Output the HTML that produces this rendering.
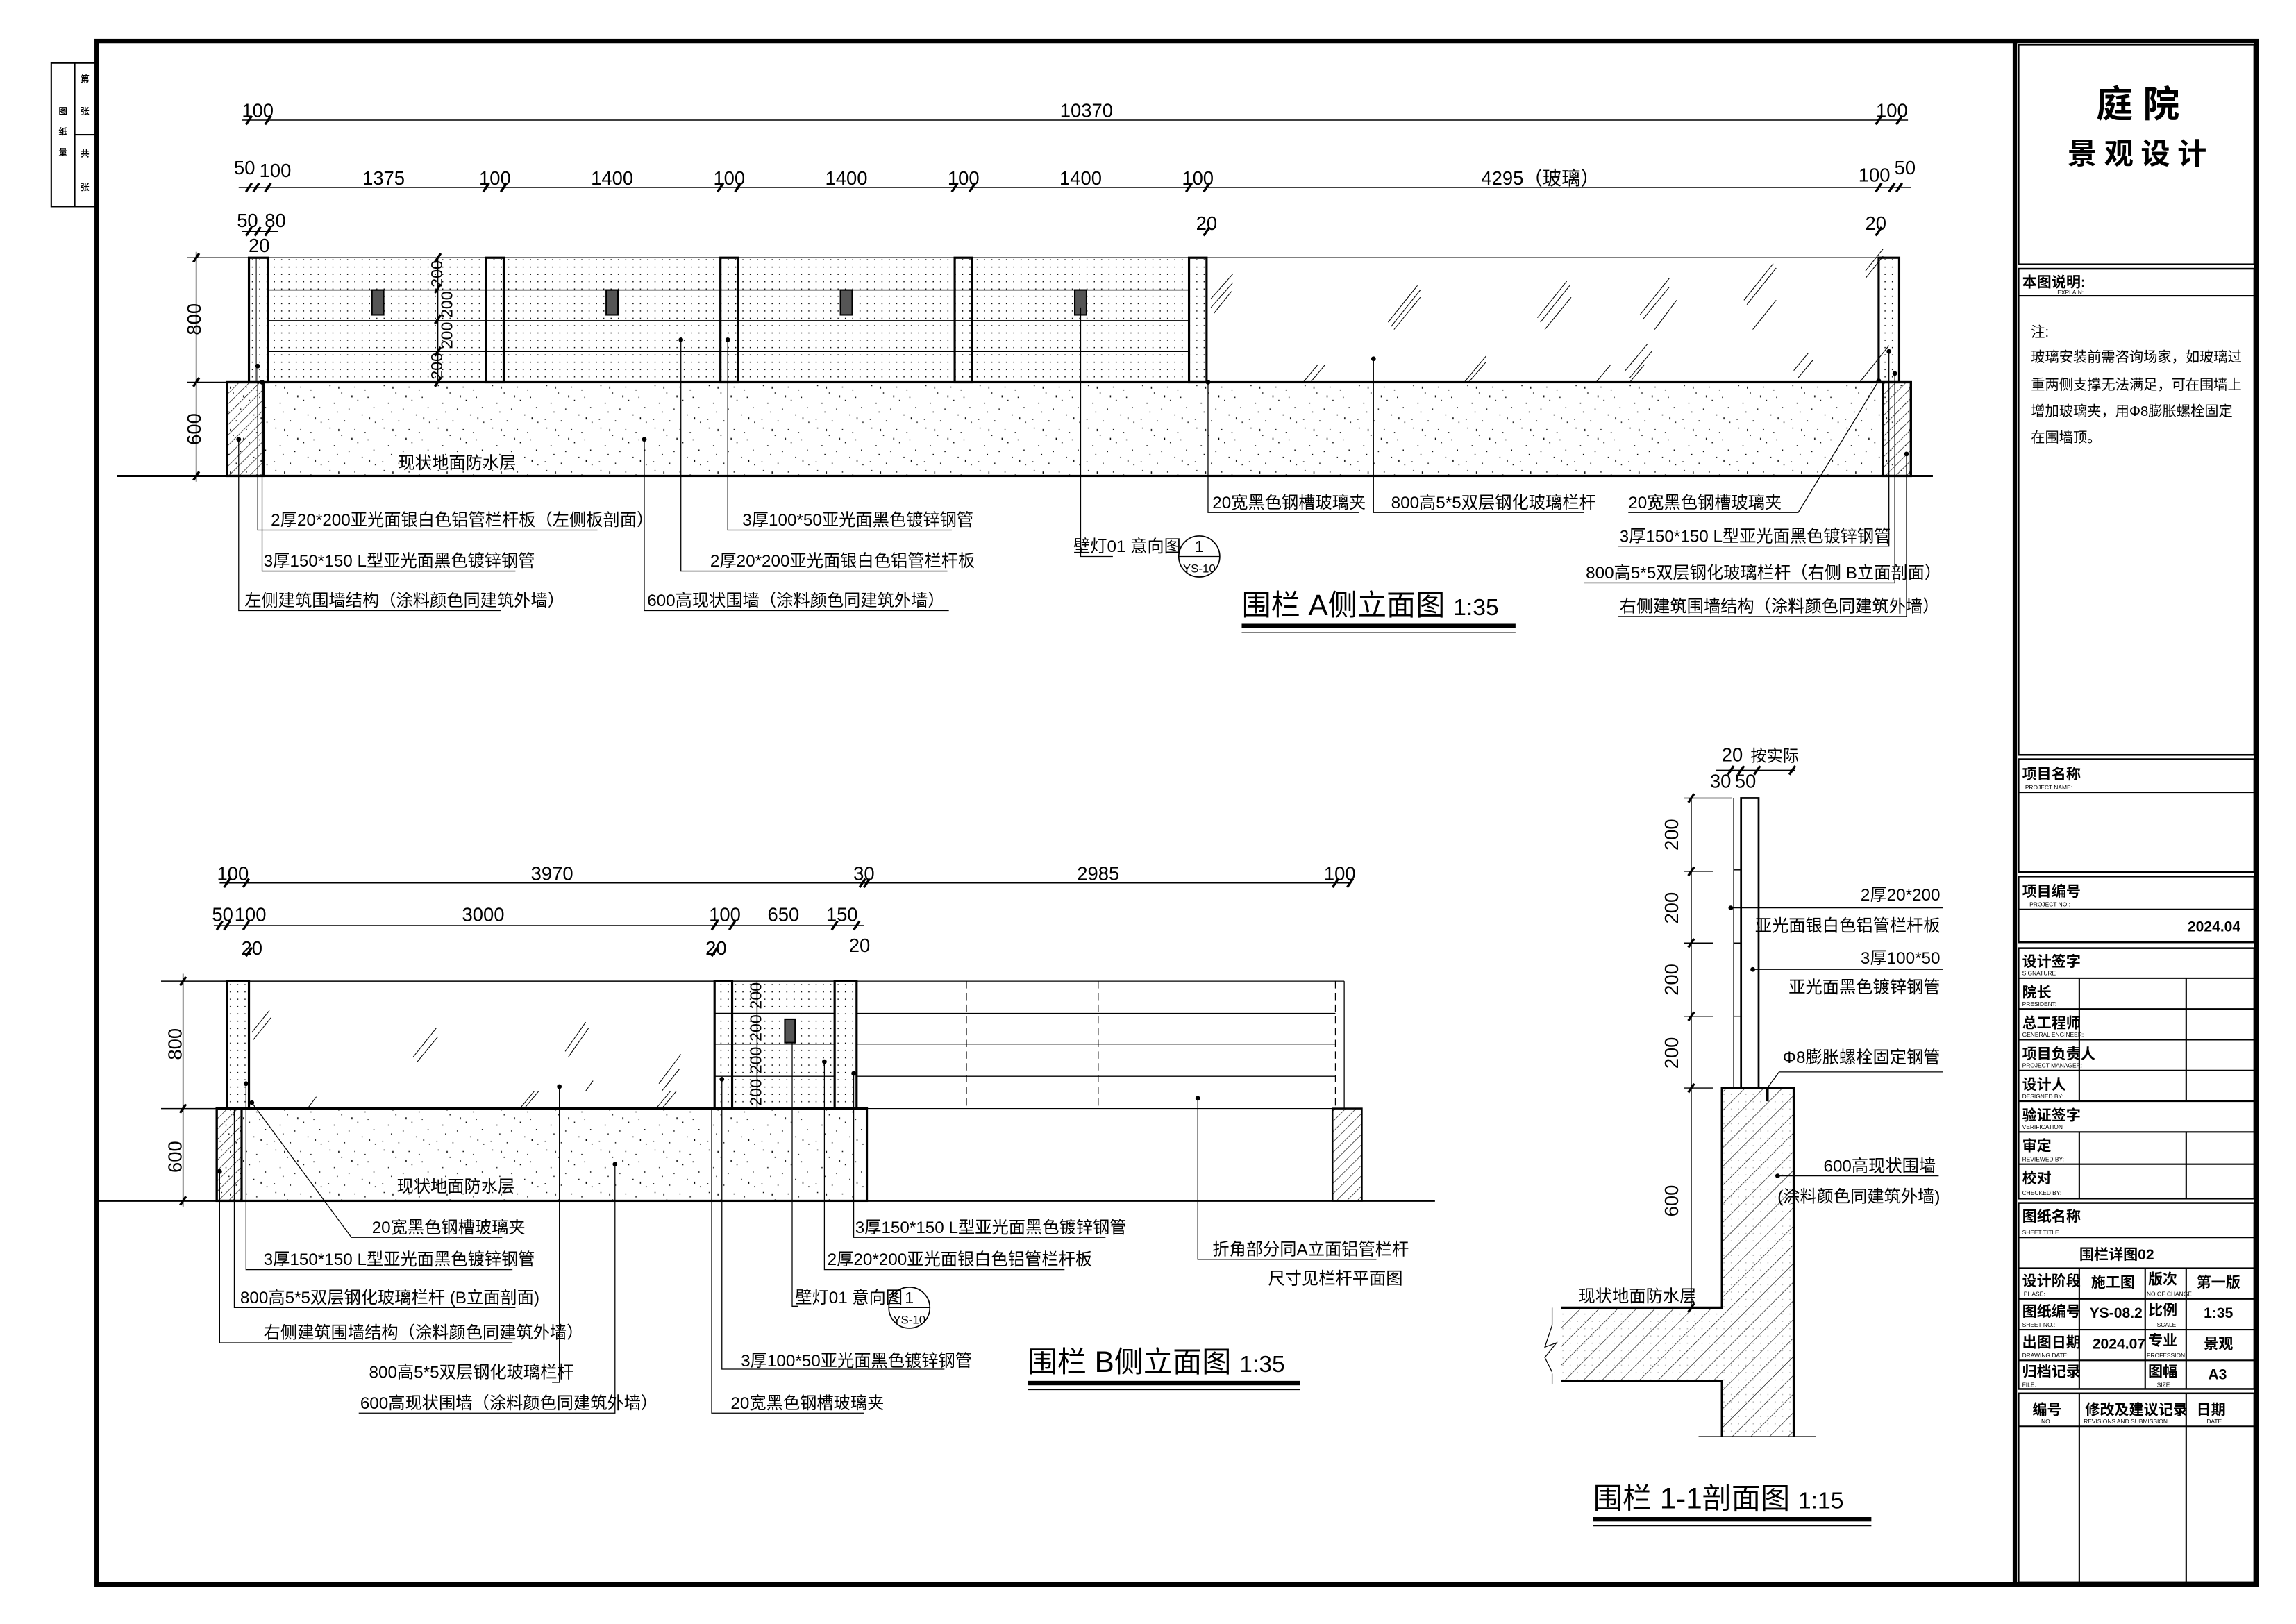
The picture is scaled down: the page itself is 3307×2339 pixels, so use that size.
<!DOCTYPE html>
<html><head><meta charset="utf-8"><style>
html,body{margin:0;padding:0;background:#fff}
svg{display:block}
text{font-family:"Liberation Sans","Noto Sans CJK SC",sans-serif;fill:#000}
.t{font-size:11.5px}
.d{font-size:13px}
.b{font-weight:bold}
</style></head><body>
<svg width="3307" height="2339" viewBox="0 0 1568 1109" xmlns="http://www.w3.org/2000/svg">
<defs>
<pattern id="dots" width="5" height="5" patternUnits="userSpaceOnUse"><rect x="2" y="2" width="0.7" height="0.7" fill="#000"/></pattern>
<pattern id="spk" width="37" height="29" patternUnits="userSpaceOnUse">
<g fill="#000"><rect x="3" y="2" width=".7" height=".7"/><rect x="11" y="7" width=".7" height=".7"/><rect x="20" y="3" width=".7" height=".7"/><rect x="29" y="10" width=".7" height=".7"/><rect x="6" y="14" width=".7" height=".7"/><rect x="16" y="18" width=".7" height=".7"/><rect x="25" y="22" width=".7" height=".7"/><rect x="33" y="17" width=".7" height=".7"/><rect x="2" y="25" width=".7" height=".7"/><rect x="13" y="26" width=".7" height=".7"/><rect x="22" y="12" width=".7" height=".7"/><rect x="34" y="27" width=".7" height=".7"/><rect x="8" y="20" width=".7" height=".7"/><rect x="27" y="5" width=".7" height=".7"/><rect x="18" y="9" width=".7" height="1.4"/><rect x="30" y="24" width=".7" height="1.4"/><rect x="9" y="3" width=".7" height="1.4"/></g></pattern>
<pattern id="hat" width="5" height="5" patternUnits="userSpaceOnUse" patternTransform="rotate(45)"><line x1="0" y1="0" x2="0" y2="5" stroke="#000" stroke-width="0.6"/></pattern>
<pattern id="hat2" width="9" height="9" patternUnits="userSpaceOnUse" patternTransform="rotate(45)"><line x1="0" y1="0" x2="0" y2="9" stroke="#000" stroke-width="0.6"/></pattern>
</defs>

<rect x="66" y="28" width="1475" height="1054" fill="none" stroke="#000" stroke-width="3"/>
<line x1="1376" y1="28" x2="1376" y2="1082" stroke="#000" stroke-width="3"/>
<g stroke="#000" stroke-width="1" fill="none"><rect x="35" y="43" width="31" height="98"/><line x1="51" y1="43" x2="51" y2="141"/><line x1="51" y1="92" x2="66" y2="92"/></g>
<g font-size="6" class="b"><text x="40" y="78">图</text><text x="40" y="92">纸</text><text x="40" y="106">量</text><text x="55" y="56">第</text><text x="55" y="78">张</text><text x="55" y="107">共</text><text x="55" y="130">张</text></g>

<g stroke="#000" fill="none">
<rect x="1378.5" y="30.5" width="161" height="150" stroke-width="1.2"/>
<rect x="1378.5" y="183.5" width="161" height="332" stroke-width="1.2"/>
<line x1="1379" y1="202" x2="1540" y2="202"/>
<rect x="1378.5" y="518.5" width="161" height="77" stroke-width="1.2"/>
<line x1="1379" y1="541" x2="1540" y2="541"/>
<rect x="1378.5" y="598.5" width="161" height="45" stroke-width="1.2"/>
<line x1="1379" y1="621" x2="1540" y2="621"/>
<rect x="1378.5" y="647.5" width="161" height="171" stroke-width="1.2"/>
<line x1="1379" y1="668" x2="1540" y2="668"/><line x1="1379" y1="689" x2="1540" y2="689"/><line x1="1379" y1="710" x2="1540" y2="710"/><line x1="1379" y1="731" x2="1540" y2="731"/><line x1="1379" y1="752" x2="1540" y2="752"/><line x1="1379" y1="773" x2="1540" y2="773"/><line x1="1379" y1="795" x2="1540" y2="795"/>
<line x1="1420" y1="668" x2="1420" y2="752"/><line x1="1493" y1="668" x2="1493" y2="752"/>
<line x1="1420" y1="773" x2="1420" y2="818"/><line x1="1493" y1="773" x2="1493" y2="818"/>
<rect x="1378.5" y="821.5" width="161" height="127" stroke-width="1.2"/>
<line x1="1379" y1="845" x2="1540" y2="845"/><line x1="1379" y1="866" x2="1540" y2="866"/><line x1="1379" y1="887" x2="1540" y2="887"/><line x1="1379" y1="908" x2="1540" y2="908"/><line x1="1379" y1="929" x2="1540" y2="929"/>
<line x1="1420" y1="866" x2="1420" y2="948"/><line x1="1465" y1="866" x2="1465" y2="948"/><line x1="1493" y1="866" x2="1493" y2="948"/>
<rect x="1378.5" y="951.5" width="161" height="129" stroke-width="1.2"/>
<line x1="1379" y1="974" x2="1540" y2="974"/><line x1="1420" y1="952" x2="1420" y2="1081"/><line x1="1493" y1="952" x2="1493" y2="1081"/>
</g>
<text x="1460" y="80" font-size="25" class="b" text-anchor="middle">庭  院</text>
<text x="1462" y="112" font-size="20" class="b" text-anchor="middle" letter-spacing="5">景观设计</text>
<text x="1381" y="196" font-size="10" class="b">本图说明:</text><text x="1405" y="201" font-size="4">EXPLAIN:</text>
<g font-size="9.6"><text x="1387" y="230">注:</text><text x="1387" y="247">玻璃安装前需咨询场家，如玻璃过</text><text x="1387" y="266">重两侧支撑无法满足，可在围墙上</text><text x="1387" y="284">增加玻璃夹，用Φ8膨胀螺栓固定</text><text x="1387" y="302">在围墙顶。</text></g>
<g font-size="10" class="b">
<text x="1381" y="532">项目名称</text><text x="1381" y="612">项目编号</text><text x="1494" y="636">2024.04</text>
<text x="1381" y="660">设计签字</text><text x="1381" y="681">院长</text><text x="1381" y="702">总工程师</text><text x="1381" y="723">项目负责人</text><text x="1381" y="744">设计人</text><text x="1381" y="765">验证签字</text><text x="1381" y="786">审定</text><text x="1381" y="808">校对</text>
<text x="1381" y="834">图纸名称</text><text x="1420" y="860">围栏详图02</text>
<text x="1381" y="878">设计阶段</text><text x="1428" y="879">施工图</text><text x="1467" y="877">版次</text><text x="1500" y="879">第一版</text>
<text x="1381" y="899">图纸编号</text><text x="1427" y="900">YS-08.2</text><text x="1467" y="898">比例</text><text x="1505" y="900">1:35</text>
<text x="1381" y="920">出图日期</text><text x="1429" y="921">2024.07</text><text x="1467" y="919">专业</text><text x="1505" y="921">景观</text>
<text x="1381" y="940">归档记录</text><text x="1467" y="940">图幅</text><text x="1508" y="942">A3</text>
<text x="1388" y="966">编号</text><text x="1424" y="966">修改及建议记录</text><text x="1500" y="966">日期</text>
</g>
<g font-size="4"><text x="1383" y="539">PROJECT NAME:</text><text x="1386" y="619">PROJECT NO.:</text><text x="1381" y="666">SIGNATURE</text><text x="1381" y="687">PRESIDENT:</text><text x="1381" y="708">GENERAL ENGINEER:</text><text x="1381" y="729">PROJECT MANAGER:</text><text x="1381" y="750">DESIGNED BY:</text><text x="1381" y="771">VERIFICATION</text><text x="1381" y="793">REVIEWED BY:</text><text x="1381" y="816">CHECKED BY:</text><text x="1381" y="843">SHEET TITLE</text><text x="1382" y="885">PHASE:</text><text x="1381" y="906">SHEET NO.:</text><text x="1381" y="927">DRAWING DATE:</text><text x="1381" y="947">FILE:</text><text x="1466" y="885">NO.OF CHANGE</text><text x="1473" y="906">SCALE:</text><text x="1466" y="927">PROFESSION</text><text x="1473" y="947">SIZE</text><text x="1394" y="972">NO.</text><text x="1423" y="972">REVISIONS AND SUBMISSION</text><text x="1507" y="972">DATE</text></g>

<!-- Elevation A -->
<g stroke="#000" fill="none" stroke-width="0.7">
<line x1="165" y1="82" x2="1303" y2="82"/>
<line x1="163" y1="128" x2="1305" y2="128"/>
<line x1="165" y1="158" x2="190" y2="158"/>
<line x1="128" y1="176" x2="170" y2="176"/><line x1="128" y1="261" x2="155" y2="261"/><line x1="128" y1="325" x2="155" y2="325"/>
<line x1="134" y1="172" x2="134" y2="329"/>
<line x1="299" y1="176" x2="299" y2="261"/>
</g>
<g stroke="#000" stroke-width="1.6">
<path d="M168 85l4-6M181 85l4-6M1281 85l4-6M1295 85l4-6M168 131l4-6M173 131l4-6M181 131l4-6M330 131l4-6M342 131l4-6M490 131l4-6M502 131l4-6M650 131l4-6M662 131l4-6M810 131l4-6M822 131l4-6M1281 131l4-6M1290 131l4-6M1295 131l4-6M168 161l4-6M174 161l4-6M181 161l4-6M822 161l4-6M1281 161l4-6M132 179l4-6M132 264l4-6M132 328l4-6M297 179l4-6M297 200l4-6M297 221l4-6M297 243l4-6M297 264l4-6"/>
</g>
<g class="d" text-anchor="middle">
<text x="176" y="80">100</text><text x="742" y="80">10370</text><text x="1292" y="80">100</text>
<text x="167" y="119">50</text><text x="188" y="121">100</text><text x="262" y="126">1375</text><text x="338" y="126">100</text><text x="418" y="126">1400</text><text x="498" y="126">100</text><text x="578" y="126">1400</text><text x="658" y="126">100</text><text x="738" y="126">1400</text><text x="818" y="126">100</text><text x="1052" y="126">4295（玻璃）</text><text x="1280" y="124">100</text><text x="1301" y="119">50</text>
<text x="169" y="155">50</text><text x="188" y="155">80</text><text x="177" y="172">20</text><text x="824" y="157">20</text><text x="1281" y="157">20</text>
</g>
<g class="d" text-anchor="middle"><text transform="translate(137,218) rotate(-90)">800</text><text transform="translate(137,293) rotate(-90)">600</text>
<text transform="translate(302,187) rotate(-90)" font-size="11">200</text><text transform="translate(309,208) rotate(-90)" font-size="11">200</text><text transform="translate(309,229) rotate(-90)" font-size="11">200</text><text transform="translate(302,250) rotate(-90)" font-size="11">200</text></g>

<rect x="183" y="176" width="629" height="85" fill="url(#dots)" stroke="#000" stroke-width="0.7"/>
<g stroke="#000" stroke-width="0.7"><line x1="183" y1="198" x2="812" y2="198"/><line x1="183" y1="219" x2="812" y2="219"/><line x1="183" y1="240" x2="812" y2="240"/></g>
<g fill="url(#dots)" stroke="#000" stroke-width="1.5">
<rect x="170" y="176" width="13" height="85"/><rect x="332" y="176" width="12" height="85"/><rect x="492" y="176" width="12" height="85"/><rect x="652" y="176" width="12" height="85"/><rect x="812" y="176" width="12" height="85"/><rect x="1283" y="176" width="14" height="85"/>
</g>
<line x1="175" y1="176" x2="175" y2="261" stroke="#000" stroke-width="0.5"/>
<g fill="#555" stroke="#000" stroke-width="1"><rect x="254" y="198" width="8" height="17"/><rect x="414" y="198" width="8" height="17"/><rect x="574" y="198" width="8" height="17"/><rect x="734" y="198" width="8" height="17"/></g>
<line x1="824" y1="176" x2="1283" y2="176" stroke="#000" stroke-width="0.7"/>
<g stroke="#000" stroke-width="0.5">
<path d="M827 204l15-17M827 210l15-17M829 214l12-15M948 220l20-25M950 223l20-25M952 225l18-22M1050 217l20-25M1052 220l20-25M1055 225l18-22M1120 215l20-25M1122 218l18-22M1130 225l15-20M1191 205l20-25M1193 208l20-25M1197 225l16-20M1225 253l10-12M1228 258l10-12M1110 253l15-18M1113 258l15-18M1113 261l10-12M1000 261l15-18M1003 261l12-14M1090 261l10-12M1270 261l20-25M1274 185l12-15M1274 190l12-15M890 261l10-12M895 261l10-12"/>
</g>
<rect x="155" y="261" width="1150" height="64" fill="url(#spk)" stroke="#000" stroke-width="1.5"/>
<rect x="155" y="261" width="25" height="64" fill="url(#hat)" stroke="#000" stroke-width="1.5"/>
<rect x="1286" y="261" width="19" height="64" fill="url(#hat)" stroke="#000" stroke-width="1.5"/>
<line x1="80" y1="325" x2="1320" y2="325" stroke="#000" stroke-width="1.4"/>
<text x="272" y="320" class="t">现状地面防水层</text>
<g stroke="#000" stroke-width="0.6" fill="none">
<path d="M176 250V362H408"/><path d="M179 261V390H352"/><path d="M163 300V417H342"/>
<path d="M497 232V362H650"/><path d="M465 232V390H647"/><path d="M440 300V417H648"/>
<path d="M738 210V380H760"/>
<path d="M825 261V350H928"/><path d="M938 245V350H1082"/>
<path d="M1283 260L1228 350H1112"/><path d="M1290 240V373H1285H1105"/><path d="M1294 255V398H1082"/><path d="M1302 310V421H1105"/>
</g>
<g fill="#000"><circle cx="176" cy="250" r="1.6"/><circle cx="179" cy="261" r="1.6"/><circle cx="163" cy="300" r="1.6"/><circle cx="497" cy="232" r="1.6"/><circle cx="465" cy="232" r="1.6"/><circle cx="440" cy="300" r="1.6"/><circle cx="825" cy="261" r="1.6"/><circle cx="938" cy="245" r="1.6"/><circle cx="1283" cy="260" r="1.6"/><circle cx="1290" cy="240" r="1.6"/><circle cx="1294" cy="255" r="1.6"/><circle cx="1302" cy="310" r="1.6"/></g>
<g class="t">
<text x="185" y="359">2厚20*200亚光面银白色铝管栏杆板（左侧板剖面）</text>
<text x="180" y="387">3厚150*150 L型亚光面黑色镀锌钢管</text>
<text x="167" y="414">左侧建筑围墙结构（涂料颜色同建筑外墙）</text>
<text x="507" y="359">3厚100*50亚光面黑色镀锌钢管</text>
<text x="485" y="387">2厚20*200亚光面银白色铝管栏杆板</text>
<text x="442" y="414">600高现状围墙（涂料颜色同建筑外墙）</text>
<text x="733" y="377">壁灯01 意向图</text>
<text x="828" y="347">20宽黑色钢槽玻璃夹</text>
<text x="950" y="347">800高5*5双层钢化玻璃栏杆</text>
<text x="1112" y="347">20宽黑色钢槽玻璃夹</text>
<text x="1106" y="370">3厚150*150 L型亚光面黑色镀锌钢管</text>
<text x="1083" y="395">800高5*5双层钢化玻璃栏杆（右侧 B立面剖面）</text>
<text x="1106" y="418">右侧建筑围墙结构（涂料颜色同建筑外墙）</text>
</g>
<circle cx="819" cy="380" r="14" fill="none" stroke="#000" stroke-width="0.8"/><line x1="805" y1="380" x2="833" y2="380" stroke="#000" stroke-width="0.6"/>
<text x="819" y="377" font-size="11" text-anchor="middle">1</text><text x="819" y="391" font-size="8" text-anchor="middle">YS-10</text>
<text x="848" y="420" font-size="20">围栏 A侧立面图 <tspan font-size="16">1:35</tspan></text>
<rect x="848" y="426" width="187" height="3" fill="#000"/><line x1="848" y1="432" x2="1035" y2="432" stroke="#000" stroke-width="0.6"/>

<!-- Elevation B -->
<g stroke="#000" fill="none" stroke-width="0.7">
<line x1="150" y1="603" x2="922" y2="603"/>
<line x1="146" y1="632" x2="590" y2="632"/>
<line x1="110" y1="670" x2="155" y2="670"/><line x1="110" y1="757" x2="148" y2="757"/><line x1="110" y1="820" x2="148" y2="820"/>
<line x1="125" y1="665" x2="125" y2="824"/>
<line x1="517" y1="670" x2="517" y2="757"/>
</g>
<g stroke="#000" stroke-width="1.6"><path d="M153 606l4-6M166 606l4-6M587 606l4-6M590 606l4-6M910 606l4-6M920 606l4-6M148 635l4-6M153 635l4-6M166 635l4-6M486 635l4-6M498 635l4-6M568 635l4-6M583 635l4-6M168 653l4-6M486 653l4-6M123 673l4-6M123 760l4-6M123 823l4-6"/></g>
<g class="d" text-anchor="middle">
<text x="159" y="601">100</text><text x="377" y="601">3970</text><text x="590" y="601">30</text><text x="750" y="601">2985</text><text x="915" y="601">100</text>
<text x="152" y="629">50</text><text x="171" y="629">100</text><text x="330" y="629">3000</text><text x="495" y="629">100</text><text x="535" y="629">650</text><text x="575" y="629">150</text>
<text x="172" y="652">20</text><text x="489" y="652">20</text><text x="587" y="650">20</text>
<text transform="translate(124,713) rotate(-90)">800</text><text transform="translate(124,790) rotate(-90)">600</text>
<text transform="translate(520,680) rotate(-90)" font-size="11">200</text><text transform="translate(520,702) rotate(-90)" font-size="11">200</text><text transform="translate(520,724) rotate(-90)" font-size="11">200</text><text transform="translate(520,746) rotate(-90)" font-size="11">200</text></g>
<line x1="170" y1="670" x2="488" y2="670" stroke="#000" stroke-width="0.7"/>
<g stroke="#000" stroke-width="0.5"><path d="M172 705l12-15M173 710l12-15M282 722l16-20M285 725l14-17M386 718l14-20M388 722l14-20M448 757l10-12M452 757l10-12M210 757l6-8M355 757l10-12M358 757l10-12M400 745l5-7M450 740l15-20M452 745l12-15"/></g>
<rect x="500" y="670" width="70" height="87" fill="url(#dots)" stroke="#000" stroke-width="0.7"/>
<g stroke="#000" stroke-width="0.7"><line x1="488" y1="692" x2="570" y2="692"/><line x1="488" y1="713" x2="570" y2="713"/><line x1="488" y1="735" x2="570" y2="735"/></g>
<rect x="536" y="696" width="7" height="16" fill="#555" stroke="#000"/>
<g fill="url(#dots)" stroke="#000" stroke-width="1.5"><rect x="155" y="670" width="15" height="87"/><rect x="488" y="670" width="12" height="87"/><rect x="570" y="670" width="15" height="87"/></g>
<g stroke="#000" stroke-width="0.6" fill="none"><line x1="585" y1="670" x2="918" y2="670"/><line x1="585" y1="692" x2="912" y2="692"/><line x1="585" y1="713" x2="912" y2="713"/><line x1="585" y1="735" x2="912" y2="735"/>
<line x1="660" y1="670" x2="660" y2="757" stroke-dasharray="5,3"/><line x1="750" y1="670" x2="750" y2="757" stroke-dasharray="5,3"/><line x1="912" y1="670" x2="912" y2="757" stroke-dasharray="5,3"/><line x1="918" y1="670" x2="918" y2="757"/><line x1="585" y1="757" x2="918" y2="757" stroke-width="0.5"/></g>
<rect x="148" y="757" width="444" height="63" fill="url(#spk)" stroke="#000" stroke-width="1.5"/>
<rect x="148" y="757" width="17" height="63" fill="url(#hat)" stroke="#000" stroke-width="1.5"/>
<rect x="910" y="757" width="20" height="63" fill="url(#hat)" stroke="#000" stroke-width="1.2"/>
<line x1="66" y1="820" x2="980" y2="820" stroke="#000" stroke-width="1.4"/>
<text x="271" y="814" class="t">现状地面防水层</text>
<g stroke="#000" stroke-width="0.6" fill="none">
<path d="M172 753L240 845H343"/><path d="M168 740V867H350"/><path d="M160 757V893H352"/><path d="M150 800V917H350"/>
<path d="M382 742V944H377"/><path d="M420 795V965H245"/>
<path d="M583 733V845H755"/><path d="M563 725V867H727"/><path d="M541 712V892H545"/>
<path d="M493 737V935H645"/><path d="M486 757V965H590"/>
<path d="M818 750V860H940"/>
</g>
<g fill="#000"><circle cx="172" cy="753" r="1.6"/><circle cx="168" cy="740" r="1.6"/><circle cx="150" cy="800" r="1.6"/><circle cx="382" cy="742" r="1.6"/><circle cx="420" cy="795" r="1.6"/><circle cx="583" cy="733" r="1.6"/><circle cx="563" cy="725" r="1.6"/><circle cx="493" cy="737" r="1.6"/><circle cx="818" cy="750" r="1.6"/></g>
<g class="t">
<text x="254" y="842">20宽黑色钢槽玻璃夹</text>
<text x="180" y="864">3厚150*150 L型亚光面黑色镀锌钢管</text>
<text x="164" y="890">800高5*5双层钢化玻璃栏杆 (B立面剖面)</text>
<text x="180" y="914">右侧建筑围墙结构（涂料颜色同建筑外墙）</text>
<text x="252" y="941">800高5*5双层钢化玻璃栏杆</text>
<text x="246" y="962">600高现状围墙（涂料颜色同建筑外墙）</text>
<text x="584" y="842">3厚150*150 L型亚光面黑色镀锌钢管</text>
<text x="565" y="864">2厚20*200亚光面银白色铝管栏杆板</text>
<text x="543" y="890">壁灯01 意向图</text>
<text x="506" y="933">3厚100*50亚光面黑色镀锌钢管</text>
<text x="499" y="962">20宽黑色钢槽玻璃夹</text>
<text x="828" y="857">折角部分同A立面铝管栏杆</text>
<text x="866" y="877">尺寸见栏杆平面图</text>
</g>
<circle cx="621" cy="893" r="14" fill="none" stroke="#000" stroke-width="0.8"/><line x1="607" y1="893" x2="635" y2="893" stroke="#000" stroke-width="0.6"/>
<text x="621" y="890" font-size="11" text-anchor="middle">1</text><text x="621" y="904" font-size="8" text-anchor="middle">YS-10</text>
<text x="702" y="937" font-size="20">围栏 B侧立面图 <tspan font-size="16">1:35</tspan></text>
<rect x="702" y="943" width="186" height="3" fill="#000"/><line x1="702" y1="949" x2="888" y2="949" stroke="#000" stroke-width="0.6"/>

<!-- Section 1-1 -->
<g stroke="#000" fill="none" stroke-width="0.7">
<line x1="1172" y1="526" x2="1226" y2="526"/>
<line x1="1155" y1="545" x2="1155" y2="893"/>
<line x1="1150" y1="545" x2="1183" y2="545"/><line x1="1150" y1="595" x2="1170" y2="595"/><line x1="1150" y1="644" x2="1170" y2="644"/><line x1="1150" y1="694" x2="1170" y2="694"/><line x1="1150" y1="743" x2="1170" y2="743"/>
<line x1="1184" y1="545" x2="1184" y2="743"/><line x1="1189" y1="545" x2="1201" y2="545"/>
<line x1="1184" y1="594" x2="1189" y2="594"/><line x1="1184" y1="644" x2="1189" y2="644"/><line x1="1184" y1="694" x2="1189" y2="694"/>
</g>
<rect x="1189" y="545" width="12" height="198" fill="none" stroke="#000" stroke-width="1.3"/>
<g stroke="#000" stroke-width="1.6"><path d="M1153 548l4-6M1153 598l4-6M1153 647l4-6M1153 697l4-6M1153 746l4-6M1153 896l4-6M1180 529l4-6M1187 529l4-6M1198 529l4-6M1222 529l4-6"/></g>
<g class="d" text-anchor="middle"><text x="1183" y="520">20</text><text x="1212" y="520" font-size="11">按实际</text><text x="1175" y="538">30</text><text x="1192" y="538">50</text>
<text transform="translate(1146,570) rotate(-90)">200</text><text transform="translate(1146,620) rotate(-90)">200</text><text transform="translate(1146,669) rotate(-90)">200</text><text transform="translate(1146,719) rotate(-90)">200</text><text transform="translate(1146,820) rotate(-90)">600</text></g>
<path d="M1176 743H1225V981H1176V943H1066V893H1176Z" fill="url(#hat2)" stroke="none"/>
<path d="M1176 743H1225V981H1176V943H1066V893H1176Z" fill="url(#dots)" fill-opacity="0.3" stroke="none"/>
<g stroke="#000" stroke-width="1.6" fill="none"><path d="M1176 981V943H1066M1066 893H1176V743H1225V981"/></g>
<g stroke="#000" stroke-width="0.6" fill="none"><path d="M1060 893V905M1060 945V938M1060 905l-5 15 8-3-8 10 5 10M1160 981H1240"/><line x1="1207" y1="743" x2="1207" y2="752" stroke-width="1.8"/>
<path d="M1182 620H1327"/><path d="M1197 662H1327"/><path d="M1207 743L1215 732H1327"/><path d="M1214 803H1324"/></g>
<g fill="#000"><circle cx="1182" cy="620" r="1.6"/><circle cx="1197" cy="662" r="1.6"/><circle cx="1214" cy="803" r="1.6"/></g>
<g class="t" text-anchor="end"><text x="1325" y="615">2厚20*200</text><text x="1325" y="636">亚光面银白色铝管栏杆板</text><text x="1325" y="658">3厚100*50</text><text x="1325" y="678">亚光面黑色镀锌钢管</text><text x="1325" y="726">Φ8膨胀螺栓固定钢管</text><text x="1322" y="800">600高现状围墙</text><text x="1325" y="821">(涂料颜色同建筑外墙)</text></g>
<text x="1078" y="889" class="t">现状地面防水层</text>
<text x="1088" y="1030" font-size="20">围栏 1-1剖面图 <tspan font-size="16">1:15</tspan></text>
<rect x="1088" y="1036" width="190" height="3" fill="#000"/><line x1="1088" y1="1042" x2="1278" y2="1042" stroke="#000" stroke-width="0.6"/>
</svg>
</body></html>
